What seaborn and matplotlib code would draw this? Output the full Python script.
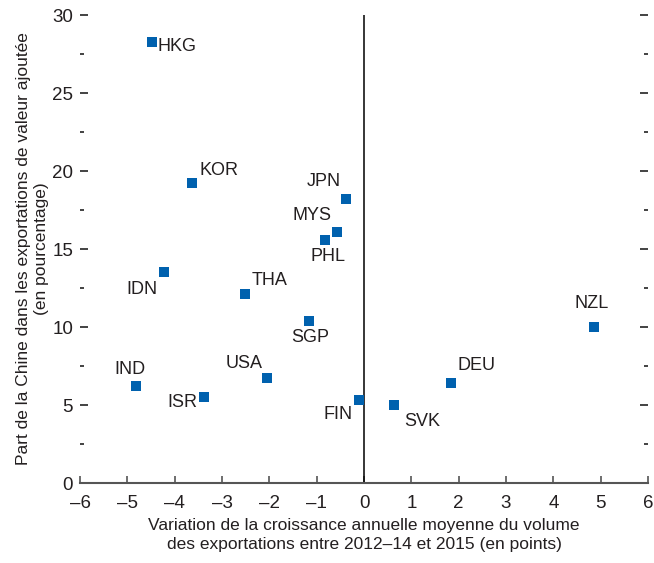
import matplotlib
matplotlib.use("Agg")
import matplotlib.pyplot as plt
from matplotlib.ticker import MultipleLocator
import seaborn as sns
import pandas as pd

countries = ["HKG", "KOR", "JPN", "MYS", "PHL", "IDN", "THA", "SGP",
             "USA", "IND", "ISR", "FIN", "SVK", "DEU", "NZL"]
growth_change = [-4.48, -3.63, -0.38, -0.56, -0.82, -4.23, -2.51, -1.16,
                 -2.05, -4.82, -3.38, -0.11, 0.63, 1.84, 4.86]
china_share = [28.3, 19.2, 18.2, 16.1, 15.6, 13.5, 12.1, 10.4,
               6.7, 6.2, 5.5, 5.3, 5.0, 6.4, 10.0]

# label placement: (dx, dy) in pixels from the marker, horizontal alignment
label_pos = {
    "HKG": (6, -5, "left"), "KOR": (7, 13, "left"), "JPN": (-5, 18, "right"),
    "MYS": (-6, 16, "right"), "PHL": (3, -17, "center"), "IDN": (-6, -17, "right"),
    "THA": (6, 14, "left"), "SGP": (1, -17, "center"), "USA": (-4, 15, "right"),
    "IND": (-6, 17, "center"), "ISR": (-7, -5, "right"), "FIN": (-6, -14, "right"),
    "SVK": (10, -16, "left"), "DEU": (6, 18, "left"), "NZL": (-2, 23, "center"),
}

df = pd.DataFrame({"pays": countries, "x": growth_change, "y": china_share})

sns.set_style("white")
plt.rcParams["font.family"] = ["Liberation Sans", "DejaVu Sans"]
plt.rcParams["font.size"] = 13
ink = "#231f20"

fig = plt.figure(figsize=(6.54, 5.63), dpi=100)
ax = fig.add_axes([80 / 654, 80 / 563, 568 / 654, 468 / 563])

blue = "#0061AE"
sns.scatterplot(data=df, x="x", y="y", marker="s", s=52, color=blue,
                linewidth=0, ax=ax, zorder=3)

for name, x, y in zip(countries, growth_change, china_share):
    dx, dy, ha = label_pos[name]
    ax.annotate(name, (x, y), xytext=(dx, dy), textcoords="offset pixels",
                ha=ha, va="center", fontsize=13, color=ink)

ax.axvline(0, color="black", lw=1.1, zorder=2)

ax.set_xlim(-6, 6)
ax.set_ylim(0, 30)
ax.xaxis.set_major_locator(MultipleLocator(1))
ax.yaxis.set_major_locator(MultipleLocator(5))
ax.yaxis.set_minor_locator(MultipleLocator(2.5))
ax.set_xticklabels([f"{int(v)}".replace("-", "\u2013") for v in ax.get_xticks()])

for side in ["left", "right", "top"]:
    ax.spines[side].set_visible(False)
ax.spines["bottom"].set_color("#555555")
ax.spines["bottom"].set_linewidth(1.5)

ax.tick_params(axis="x", direction="in", length=5, width=1.2, color="#555555",
               pad=9, labelsize=13.5, labelcolor=ink, bottom=True)
ax.tick_params(axis="y", which="major", direction="in", length=6, width=1.2,
               color="#222222", left=True, right=True, pad=5, labelsize=13.5,
               labelcolor=ink)
ax.tick_params(axis="y", which="minor", direction="in", length=3, width=1.2,
               color="#222222", left=True, right=True)

ax.set_xlabel("Variation de la croissance annuelle moyenne du volume\n"
              "des exportations entre 2012\u201314 et 2015 (en points)",
              fontsize=12.5, linespacing=1.3, labelpad=4, color=ink)
ax.set_ylabel("Part de la Chine dans les exportations de valeur ajoutée\n"
              "(en pourcentage)", fontsize=12.5, linespacing=1.3, labelpad=2,
              color=ink)

fig.savefig("out.png", dpi=100)
